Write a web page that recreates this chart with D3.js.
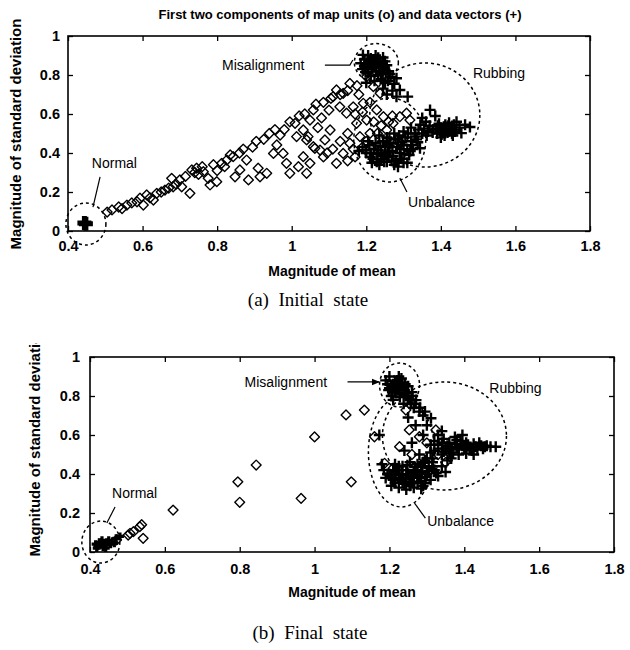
<!DOCTYPE html>
<html>
<head>
<meta charset="utf-8">
<script src="https://cdn.jsdelivr.net/npm/d3@7"></script>
<style>
    body { margin: 0; background: #fff; }
    svg { display: block; }
    text { font-family: "Liberation Sans", Arial, sans-serif; fill: #000; }
    .caption { font-family: "Liberation Serif", "DejaVu Serif", serif; font-size: 19px; white-space: pre; }
</style>
</head>
<body>
<svg id="chart" width="630" height="650"></svg>
<script>

// Axis ticks (same for both panels)
var xTicks = [0.4, 0.6, 0.8, 1.0, 1.2, 1.4, 1.6, 1.8];
var yTicks = [0, 0.2, 0.4, 0.6, 0.8, 1.0];

// ---- (a) Initial state ----
// map units (o)
var aUnits = [
    [0.505,0.097],[0.518,0.108],[0.536,0.123],[0.545,0.115],[0.558,0.133],[0.571,0.144],[0.585,0.150],
    [0.593,0.168],[0.602,0.133],[0.611,0.185],[0.620,0.170],[0.629,0.159],[0.638,0.193],[0.650,0.200],
    [0.660,0.210],[0.670,0.220],[0.678,0.270],[0.682,0.227],[0.690,0.240],[0.700,0.262],[0.705,0.227],
    [0.715,0.280],[0.727,0.193],[0.732,0.313],[0.740,0.300],[0.745,0.322],[0.750,0.290],[0.760,0.330],
    [0.763,0.304],[0.776,0.270],[0.781,0.236],[0.790,0.340],[0.799,0.253],[0.800,0.310],[0.812,0.347],
    [0.820,0.330],[0.826,0.364],[0.835,0.390],[0.843,0.381],[0.848,0.278],[0.860,0.400],[0.861,0.313],
    [0.870,0.420],[0.879,0.364],[0.884,0.262],[0.895,0.430],[0.905,0.460],[0.910,0.322],[0.915,0.278],
    [0.925,0.470],[0.933,0.296],[0.940,0.500],[0.951,0.398],[0.955,0.520],[0.960,0.441],[0.969,0.492],
    [0.977,0.398],[0.980,0.520],[0.986,0.347],[0.995,0.296],[0.995,0.560],[1.009,0.552],[1.013,0.484],
    [1.018,0.330],[1.020,0.590],[1.031,0.381],[1.031,0.518],[1.035,0.600],[1.040,0.296],[1.040,0.467],
    [1.044,0.484],[1.049,0.569],[1.049,0.347],[1.058,0.621],[1.058,0.432],[1.062,0.424],[1.065,0.650],
    [1.070,0.530],[1.076,0.415],[1.080,0.580],[1.085,0.380],[1.085,0.660],[1.089,0.467],[1.095,0.400],
    [1.100,0.620],[1.103,0.518],[1.105,0.680],[1.110,0.420],[1.111,0.689],[1.120,0.723],[1.120,0.347],
    [1.129,0.637],[1.130,0.460],[1.130,0.700],[1.138,0.706],[1.138,0.398],[1.147,0.604],[1.150,0.360],
    [1.150,0.500],[1.150,0.720],[1.156,0.757],[1.156,0.450],[1.165,0.637],[1.165,0.420],[1.170,0.380],
    [1.170,0.600],[1.174,0.552],[1.175,0.745],[1.180,0.700],[1.183,0.484],[1.190,0.430],[1.190,0.610],
    [1.192,0.655],[1.200,0.460],[1.201,0.569],[1.201,0.791],[1.210,0.501],[1.210,0.660],[1.219,0.740],
    [1.220,0.560],[1.228,0.621],[1.230,0.500],[1.237,0.706],[1.240,0.540],[1.246,0.586],[1.255,0.518],
    [1.260,0.560],[1.270,0.590],[1.272,0.552],[1.281,0.450],[1.290,0.586],[1.299,0.467],[1.308,0.604],
    [1.317,0.569]
];
// data vectors (+)
var aNormal = [[0.444,0.041],[0.448,0.037]];
var aMisalign = [
    [1.191,0.903],[1.200,0.850],[1.210,0.870],[1.220,0.880],[1.230,0.860],[1.240,0.840],[1.215,0.830],
    [1.225,0.900],[1.205,0.810],[1.235,0.820],[1.250,0.870],[1.195,0.880],[1.245,0.890],[1.218,0.845],
    [1.228,0.875],[1.190,0.830],[1.212,0.795],[1.232,0.800],[1.255,0.850],[1.260,0.820],[1.185,0.860],
    [1.205,0.900],[1.222,0.770],[1.240,0.780],[1.200,0.760],[1.250,0.760],[1.265,0.790],[1.281,0.783],
    [1.290,0.723],[1.311,0.689],[1.281,0.689],[1.270,0.720],[1.255,0.700],[1.245,0.730],
    [1.195,0.845],[1.208,0.855],[1.222,0.860],[1.236,0.852],[1.248,0.835],[1.212,0.885],[1.232,0.888],
    [1.198,0.815],[1.226,0.818],[1.244,0.810],[1.216,0.865],[1.238,0.868],[1.205,0.835],[1.252,0.815],
    [1.262,0.805],[1.258,0.770],[1.275,0.755]
];
var aUnbalance = [
    [1.200,0.400],[1.210,0.380],[1.220,0.420],[1.230,0.370],[1.240,0.400],[1.250,0.430],[1.260,0.380],
    [1.270,0.410],[1.280,0.360],[1.290,0.400],[1.300,0.440],[1.310,0.420],[1.225,0.450],[1.245,0.460],
    [1.265,0.450],[1.285,0.470],[1.305,0.480],[1.320,0.460],[1.330,0.500],[1.340,0.520],[1.335,0.470],
    [1.215,0.350],[1.235,0.340],[1.255,0.355],[1.275,0.340],[1.295,0.370],[1.315,0.390],[1.190,0.430],
    [1.205,0.460],[1.235,0.490],[1.255,0.480],[1.275,0.500],[1.300,0.510],[1.320,0.530],[1.345,0.545],
    [1.350,0.500],[1.344,0.424],[1.325,0.420],[1.285,0.330],[1.240,0.370],[1.262,0.405],[1.282,0.430],
    [1.228,0.395],[1.248,0.355],[1.295,0.455],[1.180,0.410],[1.310,0.350],
    [1.212,0.400],[1.232,0.415],[1.252,0.395],[1.272,0.385],[1.292,0.420],[1.238,0.435],[1.258,0.440],
    [1.278,0.470],[1.218,0.370],[1.268,0.360],[1.302,0.395],[1.322,0.440],[1.332,0.485],[1.312,0.500],
    [1.288,0.490],[1.262,0.475],[1.246,0.385],[1.198,0.415],[1.208,0.440],[1.228,0.355],[1.300,0.350],
    [1.318,0.410],[1.338,0.455],[1.355,0.525],[1.362,0.490]
];
var aRubbing = [
    [1.380,0.520],[1.390,0.500],[1.400,0.530],[1.410,0.510],[1.420,0.540],[1.430,0.500],[1.440,0.520],
    [1.410,0.490],[1.395,0.550],[1.425,0.520],[1.450,0.530],[1.415,0.525],[1.405,0.505],[1.435,0.545],
    [1.370,0.540],[1.360,0.560],[1.371,0.621],[1.385,0.590],[1.478,0.533],[1.455,0.502],[1.442,0.560],
    [1.465,0.545],[1.350,0.580],[1.365,0.510],[1.400,0.480],
    [1.388,0.525],[1.398,0.515],[1.408,0.535],[1.418,0.505],[1.428,0.530],[1.438,0.510],[1.392,0.540],
    [1.412,0.545],[1.422,0.555],[1.402,0.495],[1.378,0.505],[1.432,0.490]
];

// ---- (b) Final state ----
var bUnits = [
    [0.471,0.062],[0.502,0.087],[0.507,0.096],[0.516,0.104],[0.533,0.130],[0.538,0.140],[0.542,0.070],
    [0.622,0.215],[0.795,0.360],[0.800,0.255],[0.844,0.446],[0.964,0.275],[1.000,0.590],[1.084,0.703],
    [1.133,0.728],[1.098,0.360],[1.160,0.591],[1.187,0.455],[1.244,0.728],[1.253,0.626],[1.324,0.626],
    [1.227,0.540],[1.280,0.591],[1.300,0.560],[1.210,0.430],[1.260,0.500],[1.330,0.500],[1.220,0.380],
    [1.350,0.460]
];
var bNormal = [
    [0.420,0.030],[0.430,0.040],[0.440,0.035],[0.425,0.050],[0.435,0.025],[0.445,0.050],[0.415,0.040],
    [0.450,0.060],[0.460,0.055],[0.470,0.070],[0.455,0.040],[0.432,0.060],[0.480,0.080],[0.418,0.020],
    [0.442,0.020],[0.465,0.045]
];
var bMisalign = [
    [1.200,0.840],[1.210,0.860],[1.220,0.880],[1.230,0.850],[1.240,0.830],[1.215,0.820],[1.225,0.900],
    [1.235,0.870],[1.250,0.850],[1.205,0.800],[1.245,0.800],[1.260,0.820],[1.195,0.860],[1.228,0.810],
    [1.218,0.845],[1.238,0.760],[1.255,0.780],[1.270,0.760],[1.190,0.880],[1.200,0.900],[1.210,0.780],
    [1.265,0.740],[1.280,0.720],[1.271,0.779],[1.290,0.700],[1.311,0.686],[1.300,0.650],[1.173,0.600],
    [1.250,0.690],[1.270,0.650],[1.290,0.600],[1.260,0.560],[1.310,0.550],[1.280,0.500],[1.240,0.520],
    [1.205,0.855],[1.215,0.870],[1.225,0.865],[1.235,0.840],[1.222,0.830],[1.212,0.840],[1.242,0.860],
    [1.232,0.890],[1.208,0.820],[1.245,0.815],[1.228,0.795],[1.250,0.790],[1.258,0.760],[1.262,0.800],
    [1.198,0.830],[1.282,0.740],[1.295,0.720]
];
var bUnbalance = [
    [1.200,0.400],[1.210,0.370],[1.220,0.420],[1.230,0.380],[1.240,0.350],[1.250,0.400],[1.260,0.360],
    [1.270,0.420],[1.280,0.380],[1.290,0.340],[1.300,0.400],[1.310,0.370],[1.320,0.420],[1.330,0.390],
    [1.215,0.450],[1.235,0.440],[1.255,0.460],[1.275,0.450],[1.295,0.470],[1.315,0.460],[1.190,0.380],
    [1.205,0.340],[1.225,0.330],[1.245,0.320],[1.265,0.330],[1.285,0.325],[1.340,0.440],[1.350,0.410],
    [1.245,0.420],[1.285,0.410],[1.225,0.395],[1.305,0.430],[1.185,0.420],[1.180,0.450],[1.265,0.390],
    [1.205,0.390],[1.215,0.400],[1.235,0.395],[1.245,0.375],[1.255,0.385],[1.265,0.410],[1.275,0.395],
    [1.285,0.365],[1.295,0.385],[1.305,0.415],[1.215,0.355],[1.235,0.360],[1.255,0.340],[1.275,0.355],
    [1.295,0.355],[1.225,0.440],[1.248,0.445],[1.268,0.435],[1.288,0.440],[1.315,0.440],[1.325,0.405],
    [1.195,0.400],[1.210,0.420],[1.232,0.420]
];
var bRubbing = [
    [1.320,0.520],[1.330,0.550],[1.340,0.500],[1.350,0.530],[1.360,0.560],[1.370,0.510],[1.380,0.540],
    [1.390,0.570],[1.400,0.530],[1.410,0.550],[1.420,0.520],[1.430,0.540],[1.440,0.560],[1.450,0.530],
    [1.460,0.545],[1.470,0.540],[1.484,0.540],[1.365,0.480],[1.385,0.500],[1.405,0.505],[1.425,0.500],
    [1.345,0.580],[1.375,0.590],[1.395,0.600],[1.330,0.600],[1.355,0.470],[1.315,0.480],[1.340,0.620],
    [1.330,0.530],[1.345,0.515],[1.355,0.545],[1.365,0.530],[1.375,0.555],[1.385,0.525],[1.395,0.545],
    [1.405,0.560],[1.415,0.535],[1.425,0.555],[1.435,0.525],[1.445,0.545],[1.455,0.540],[1.340,0.560],
    [1.360,0.505],[1.380,0.575],[1.300,0.480],[1.310,0.510],[1.290,0.460],[1.320,0.570]
];

var chartTitle = "First two components of map units (o) and data vectors (+)";
var xTitle = "Magnitude of mean";
var yTitle = "Magnitude of standard deviation";

var svg = d3.select("#chart");
var fmt = function (d) { return String(+d.toFixed(1)); };
var plusPath = function (s) { return "M" + (-s) + ",0H" + s + "M0," + (-s) + "V" + s; };

svg.append("defs").append("marker")
    .attr("id", "arrow").attr("viewBox", "0 0 10 10").attr("refX", 9).attr("refY", 5)
    .attr("markerWidth", 7).attr("markerHeight", 7).attr("orient", "auto")
    .append("path").attr("d", "M0,1L10,5L0,9Z").attr("fill", "#000");

// Draw one panel: frame, inward ticks, markers, dashed rings and labels.
function drawPanel(cfg) {
    var x = d3.scaleLinear().domain([0.4, 1.8]).range([cfg.left, cfg.right]);
    var y = d3.scaleLinear().domain([0, 1]).range([cfg.bottom, cfg.top]);
    var g = svg.append("g");

    var axes = [
        [d3.axisBottom(x).tickValues(xTicks).tickFormat(fmt).tickPadding(cfg.xPad), "translate(0," + cfg.bottom + ")"],
        [d3.axisTop(x).tickValues(xTicks).tickFormat(""), "translate(0," + cfg.top + ")"],
        [d3.axisLeft(y).tickValues(yTicks).tickFormat(fmt).tickPadding(cfg.yPad), "translate(" + cfg.left + ",0)"],
        [d3.axisRight(y).tickValues(yTicks).tickFormat(""), "translate(" + cfg.right + ",0)"]
    ];
    axes.forEach(function (a) {
        var ax = g.append("g").attr("transform", a[1]).call(a[0].tickSize(-5));
        ax.select(".domain").remove();
        ax.selectAll("line").attr("stroke", "#000").attr("stroke-width", 1.3);
        ax.selectAll("text").style("font-family", "'Liberation Sans', Arial, sans-serif")
            .style("font-size", "14.5px").style("font-weight", "bold");
    });

    g.append("rect")
        .attr("x", cfg.left).attr("y", cfg.top)
        .attr("width", cfg.right - cfg.left).attr("height", cfg.bottom - cfg.top)
        .attr("fill", "none").attr("stroke", "#000").attr("stroke-width", 1.6);

    // map units as small open diamonds
    g.selectAll("path.unit").data(cfg.units).join("path").attr("class", "unit")
        .attr("d", d3.symbol(d3.symbolSquare, 48))
        .attr("transform", function (d) { return "translate(" + x(d[0]) + "," + y(d[1]) + ") rotate(45)"; })
        .attr("fill", "none").attr("stroke", "#000").attr("stroke-width", 1.4)
        .attr("stroke-linejoin", "round");

    // data vectors as bold crosses
    cfg.vectors.forEach(function (set) {
        g.append("g").selectAll("path").data(set.pts).join("path")
            .attr("d", plusPath(set.size))
            .attr("transform", function (d) { return "translate(" + x(d[0]) + "," + y(d[1]) + ")"; })
            .attr("stroke", "#000").attr("stroke-width", set.width).attr("fill", "none");
    });

    // dashed rings round the fault clusters
    g.selectAll("ellipse").data(cfg.rings).join("ellipse")
        .attr("cx", function (d) { return x(d.cx); }).attr("cy", function (d) { return y(d.cy); })
        .attr("rx", function (d) { return d.rx; }).attr("ry", function (d) { return d.ry; })
        .attr("fill", "none").attr("stroke", "#000").attr("stroke-width", 1.5)
        .attr("stroke-dasharray", "3,3");

    // leader lines
    cfg.leaders.forEach(function (l) {
        g.append("path")
            .attr("d", d3.line().x(function (p) { return x(p[0]); }).y(function (p) { return y(p[1]); })(l.pts))
            .attr("fill", "none").attr("stroke", "#000").attr("stroke-width", 1.2)
            .attr("marker-end", l.arrow ? "url(#arrow)" : null);
    });

    g.selectAll("text.note").data(cfg.notes).join("text").attr("class", "note")
        .attr("x", function (d) { return x(d.x); }).attr("y", function (d) { return y(d.y); })
        .style("font-size", "14px")
        .text(function (d) { return d.t; });

    g.append("text")
        .attr("x", (cfg.left + cfg.right) / 2 + cfg.xTitleDx).attr("y", cfg.xTitleY)
        .attr("text-anchor", "middle").style("font-size", "14px").style("font-weight", "bold")
        .text(xTitle);

    // the y title runs past the top of the scanned panel, so clip it there
    var clipId = "clip" + cfg.id;
    svg.append("clipPath").attr("id", clipId).append("rect")
        .attr("x", 0).attr("y", cfg.clipTop).attr("width", 200).attr("height", 650);
    g.append("g").attr("clip-path", "url(#" + clipId + ")")
        .append("text")
        .attr("transform", "translate(" + cfg.yTitleX + "," + cfg.yTitleY + ") rotate(-90)")
        .attr("text-anchor", "middle").style("font-size", "15px").style("font-weight", "bold")
        .text(yTitle);

    g.append("text").attr("class", "caption")
        .attr("x", cfg.capX).attr("y", cfg.capY).attr("text-anchor", "middle")
        .text(cfg.caption);
}

svg.append("text")
    .attr("x", 340).attr("y", 19).attr("text-anchor", "middle")
    .style("font-size", "13px").style("font-weight", "bold")
    .text(chartTitle);

drawPanel({
    id: "a", left: 68, right: 590, top: 36, bottom: 231, xPad: 10, yPad: 8,
    units: aUnits,
    vectors: [
        {pts: aNormal, size: 7, width: 5},
        {pts: aMisalign, size: 5.5, width: 2.4},
        {pts: aUnbalance, size: 5.5, width: 2.4},
        {pts: aRubbing, size: 5.5, width: 2.4}
    ],
    rings: [
        {cx: 0.448, cy: 0.036, rx: 20, ry: 21},
        {cx: 1.227, cy: 0.864, rx: 22, ry: 19},
        {cx: 1.357, cy: 0.595, rx: 55, ry: 52},
        {cx: 1.263, cy: 0.467, rx: 36, ry: 42}
    ],
    leaders: [
        {pts: [[0.486, 0.277], [0.467, 0.123]]},
        {pts: [[1.089, 0.851], [1.156, 0.851], [1.164, 0.877]]},
        {pts: [[1.290, 0.272], [1.309, 0.200]]}
    ],
    notes: [
        {t: "Normal", x: 0.464, y: 0.323},
        {t: "Misalignment", x: 0.813, y: 0.826},
        {t: "Rubbing", x: 1.486, y: 0.785},
        {t: "Unbalance", x: 1.312, y: 0.123}
    ],
    xTitleDx: 3, xTitleY: 276,
    yTitleX: 21, yTitleY: 134, clipTop: 0,
    caption: "(a)  Initial  state", capX: 308, capY: 306
});

drawPanel({
    id: "b", left: 90, right: 614, top: 357, bottom: 552, xPad: 12, yPad: 10,
    units: bUnits,
    vectors: [
        {pts: bNormal, size: 4, width: 3.2},
        {pts: bMisalign, size: 5.5, width: 2.4},
        {pts: bUnbalance, size: 5.5, width: 2.4},
        {pts: bRubbing, size: 5.5, width: 2.4}
    ],
    rings: [
        {cx: 0.429, cy: 0.051, rx: 19, ry: 21},
        {cx: 1.227, cy: 0.856, rx: 20, ry: 22},
        {cx: 1.347, cy: 0.595, rx: 62, ry: 54},
        {cx: 1.232, cy: 0.513, rx: 33, ry: 55}
    ],
    leaders: [
        {pts: [[0.467, 0.231], [0.445, 0.149]]},
        {pts: [[1.088, 0.872], [1.173, 0.872]], arrow: true},
        {pts: [[1.267, 0.251], [1.296, 0.174]]}
    ],
    notes: [
        {t: "Normal", x: 0.459, y: 0.277},
        {t: "Misalignment", x: 0.813, y: 0.846},
        {t: "Rubbing", x: 1.467, y: 0.815},
        {t: "Unbalance", x: 1.301, y: 0.133}
    ],
    xTitleDx: 0, xTitleY: 597,
    yTitleX: 40, yTitleY: 441, clipTop: 343,
    caption: "(b)  Final  state", capX: 310, capY: 639
});

</script>
</body>
</html>
